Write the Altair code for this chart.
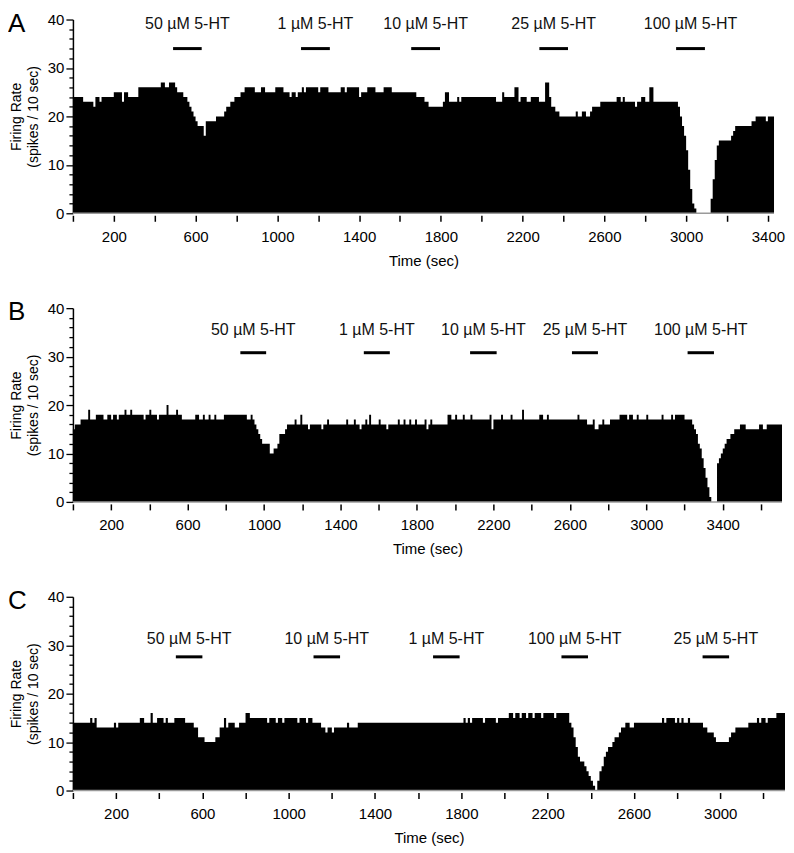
import altair as alt
import numpy as np
import pandas as pd

FONT = "Liberation Sans"
BIN = 10  # seconds per histogram bin

# Firing-rate histograms, run-length form: (spikes per 10 s, number of consecutive 10-s bins)
A_runs = [(24,5),(23,5),(22,1),(24,2),(23,1),(24,6),(25,4),(23,1),(25,2),(24,5),(26,11),(27,2),(26,2),(27,3),
          (26,1),(25,3),(24,2),(23,1),(22,1),(21,1),(20,1),(19,1),(18,3),(16,1),(19,5),(20,4),(21,1),(22,2),
          (23,2),(24,3),(25,2),(26,5),(25,3),(26,2),(25,5),(26,4),(25,3),(24,1),(25,2),(24,1),(25,2),(26,1),
          (25,1),(26,6),(25,1),(26,4),(25,6),(26,2),(25,1),(26,6),(24,1),(25,3),(26,4),(25,4),(26,4),(25,12),
          (24,4),(23,2),(22,7),(23,1),(25,2),(23,4),(24,1),(23,1),(24,17),(23,3),(25,1),(24,5),(26,2),(23,1),
          (24,3),(23,2),(24,4),(23,3),(27,2),(24,1),(22,2),(21,2),(20,8),(21,1),(20,2),(21,2),(20,2),(21,1),
          (22,4),(23,8),(24,2),(23,1),(24,1),(23,5),(22,1),(23,2),(24,2),(23,2),(26,2),(23,12),(22,1),(20,1),
          (18,1),(16,1),(13,1),(9,1),(5,1),(2,1),(1,1),(0,7),(3,1),(7,1),(11,1),(14,1),(15,6),(16,1),(17,1),
          (18,8),(19,2),(20,5),(19,1),(20,3)]
B_runs = [(15,1),(16,3),(17,4),(19,1),(17,3),(18,4),(17,2),(18,2),(17,1),(18,2),(17,1),(18,3),(19,1),(18,2),
          (19,1),(18,6),(17,1),(18,2),(19,1),(18,3),(17,1),(18,4),(20,1),(18,4),(19,1),(18,2),(17,7),(18,2),
          (17,2),(18,1),(17,2),(18,1),(17,2),(18,1),(17,4),(18,12),(17,2),(18,1),(17,1),(16,1),(15,1),(14,1),
          (13,1),(12,4),(10,2),(11,2),(12,1),(14,3),(15,1),(16,4),(17,1),(16,2),(18,1),(16,3),(15,1),(16,6),
          (15,1),(16,2),(17,1),(16,9),(17,1),(16,3),(17,1),(16,2),(15,1),(16,2),(17,1),(16,1),(18,1),(16,4),
          (17,1),(16,3),(15,1),(16,5),(17,1),(16,2),(17,1),(16,2),(17,1),(16,2),(17,1),(16,4),(17,1),(15,1),
          (16,1),(17,1),(16,8),(18,2),(17,2),(18,1),(17,3),(18,1),(17,3),(18,1),(17,9),(18,1),(15,1),(17,4),
          (18,1),(17,4),(18,1),(17,5),(19,1),(17,8),(18,2),(17,2),(18,1),(17,15),(18,1),(17,4),(16,3),(17,1),
          (15,2),(16,2),(17,1),(16,3),(17,5),(18,4),(17,1),(18,2),(17,2),(18,1),(17,4),(18,1),(17,7),(18,1),
          (17,4),(18,1),(17,1),(18,5),(17,4),(16,1),(15,1),(14,1),(12,1),(11,1),(9,1),(7,1),(5,1),(3,1),(1,1),
          (0,3),(8,1),(9,1),(10,1),(11,1),(12,1),(13,2),(14,2),(15,3),(16,3),(15,7),(16,2),(15,2),(16,8)]
C_runs = [(14,8),(15,1),(14,1),(15,1),(13,8),(14,1),(13,1),(14,10),(15,2),(14,3),(16,1),(14,2),(15,3),(14,1),
          (15,1),(14,3),(15,5),(14,4),(13,2),(11,3),(10,5),(11,2),(13,2),(15,1),(13,1),(14,3),(13,2),(14,3),
          (16,2),(15,8),(14,1),(15,3),(14,1),(15,2),(14,1),(15,6),(14,1),(15,3),(14,1),(15,2),(14,4),(13,2),
          (12,1),(13,2),(12,1),(13,6),(14,1),(13,4),(14,49),(15,1),(14,1),(15,1),(14,1),(15,5),(14,1),(15,5),
          (14,1),(15,5),(16,2),(15,1),(16,2),(15,1),(16,2),(15,1),(16,2),(15,1),(16,3),(15,1),(16,5),(15,1),
          (16,6),(14,1),(13,1),(11,1),(9,1),(7,1),(6,2),(5,1),(4,1),(3,1),(2,1),(1,1),(0,1),(2,1),(4,1),(5,1),
          (7,1),(8,1),(9,2),(10,1),(11,2),(12,1),(13,2),(14,2),(13,2),(14,13),(15,1),(14,1),(15,4),(14,1),
          (15,1),(14,1),(15,1),(14,2),(15,1),(14,6),(13,2),(12,3),(11,1),(10,6),(11,1),(12,2),(13,6),(14,4),
          (15,1),(14,1),(15,2),(14,1),(15,4),(16,4)]

# Drug applications (seconds)
A_drugs = ["50 µM 5-HT", "1 µM 5-HT", "10 µM 5-HT", "25 µM 5-HT", "100 µM 5-HT"]
A_start = [490, 1116, 1655, 2282, 2951]
A_end = [630, 1257, 1796, 2422, 3092]
B_drugs = ["50 µM 5-HT", "1 µM 5-HT", "10 µM 5-HT", "25 µM 5-HT", "100 µM 5-HT"]
B_start = [876, 1522, 2078, 2611, 3216]
B_end = [1011, 1658, 2217, 2747, 3354]
C_drugs = ["50 µM 5-HT", "10 µM 5-HT", "1 µM 5-HT", "100 µM 5-HT", "25 µM 5-HT"]
C_start = [477, 1115, 1669, 2264, 2918]
C_end = [600, 1238, 1792, 2387, 3041]


def expand(runs):
    return np.repeat([r for r, _ in runs], [n for _, n in runs])


def panel(letter, runs, names, starts, ends, bar_level, label_level, width):
    rates = expand(runs)
    n = len(rates)
    t_max = n * BIN
    hist = pd.DataFrame({"t": np.arange(n + 1) * BIN,
                         "rate": np.append(rates, rates[-1])})
    drugs = pd.DataFrame({"name": names, "start": starts, "end": ends})
    drugs["mid"] = (drugs["start"] + drugs["end"]) / 2
    drugs["bar"] = bar_level
    drugs["lab"] = label_level

    xscale = alt.Scale(domain=[0, t_max], nice=False, zero=False)
    yscale = alt.Scale(domain=[0, 40], nice=False)
    xaxis = alt.Axis(values=list(range(0, t_max + 1, 200)),
                     labelExpr="(datum.value - 200) % 400 === 0 ? datum.label : ''",
                     format="d", title="Time (sec)", domain=False, offset=2,
                     tickSize=6, tickWidth=1.5, tickColor="black",
                     labelFontSize=15, labelPadding=8, labelFlush=False, labelOverlap=False,
                     titleFontSize=15, titlePadding=9)
    yaxis = alt.Axis(values=list(range(0, 41, 2)),
                     labelExpr="datum.value % 10 === 0 ? datum.label : ''",
                     tickSize={"condition": {"test": "datum.value % 10 === 0", "value": 7}, "value": 4},
                     tickWidth=1.3, tickColor="black", domainColor="black", domainWidth=1.5,
                     labelFontSize=15, labelPadding=2, labelOverlap=False,
                     title=["Firing Rate", "(spikes / 10 sec)"], titleFontSize=14,
                     titleLineHeight=17, titlePadding=7)

    area = alt.Chart(hist).mark_area(interpolate="step-after", color="black").encode(
        x=alt.X("t:Q", scale=xscale, axis=xaxis),
        y=alt.Y("rate:Q", scale=yscale, axis=yaxis),
    )
    base = alt.Chart(pd.DataFrame({"t": [0]})).mark_rule(color="#9a9a9a", strokeWidth=1.5).encode(
        y=alt.Y("t:Q", scale=yscale, axis=yaxis)
    )
    bars = alt.Chart(drugs).mark_rule(color="black", strokeWidth=3).encode(
        x=alt.X("start:Q", scale=xscale, axis=xaxis),
        x2="end:Q",
        y=alt.Y("bar:Q", scale=yscale, axis=yaxis),
    )
    labels = alt.Chart(drugs).mark_text(font=FONT, fontSize=16, color="#111", baseline="middle").encode(
        x=alt.X("mid:Q", scale=xscale, axis=xaxis),
        y=alt.Y("lab:Q", scale=yscale, axis=yaxis),
        text="name:N",
    )
    # panel letter, placed in the top-left margin beside the axis
    tag = alt.Chart(pd.DataFrame({"tag": [letter]})).mark_text(
        font=FONT, fontSize=26, color="black", align="left", baseline="alphabetic"
    ).encode(x=alt.value(-65), y=alt.value(12), text="tag:N")
    return alt.layer(area, base, bars, labels, tag).properties(width=width, height=194)


pA = panel("A", A_runs, A_drugs, A_start, A_end, 34.0, 39.0, 702)
pB = panel("B", B_runs, B_drugs, B_start, B_end, 30.8, 35.5, 710)
pC = panel("C", C_runs, C_drugs, C_start, C_end, 27.6, 31.2, 713)

chart = alt.vconcat(pA, pB, pC, spacing=31).properties(
    padding={"left": 0, "top": 2, "right": 0, "bottom": 0}
).configure_view(stroke=None).configure_axis(
    grid=False, labelFont=FONT, titleFont=FONT, labelColor="black", titleColor="black",
    titleFontWeight="normal"
)

chart.save("out.html", embed_options={"renderer": "svg", "actions": False})
